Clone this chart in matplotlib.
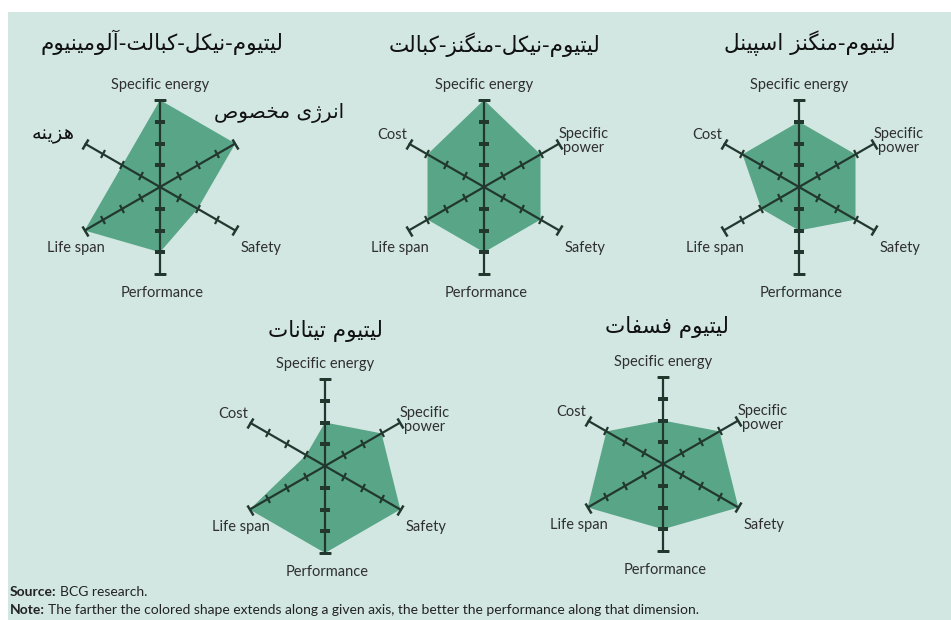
import numpy as np
import matplotlib
matplotlib.use("Agg")
import matplotlib.pyplot as plt
from matplotlib.markers import MarkerStyle
from matplotlib.transforms import Affine2D
from matplotlib.patches import Rectangle

# ---- data -------------------------------------------------------------
categories = ["Specific energy", "Specific power", "Safety",
              "Performance", "Life span", "Cost"]
nca = [4, 4, 2, 3, 4, 2]   # lithium nickel cobalt aluminium
nmc = [4, 3, 3, 3, 3, 3]   # lithium nickel manganese cobalt
lmo = [3, 3, 3, 2, 2, 3]   # lithium manganese spinel
lto = [2, 3, 4, 4, 4, 1]   # lithium titanate
lfp = [2, 3, 4, 3, 4, 3]   # lithium phosphate
titles = ["لیتیوم-نیکل-کبالت-آلومینیوم",
          "لیتیوم-نیکل-منگنز-کبالت",
          "لیتیوم-منگنز اسپینل",
          "لیتیوم تیتانات",
          "لیتیوم فسفات"]
label_energy_fa = "انرژی مخصوص"
label_cost_fa = "هزینه"
source_text = "BCG research."
note_text = ("The farther the colored shape extends along a given axis, "
             "the better the performance along that dimension.")
scale_max = 4

# ---- minimal Persian shaping (presentation forms + right-to-left) -----
FORMS = {
    '\u0622': ('\uFE81', '\uFE82', None, None),
    '\u0627': ('\uFE8D', '\uFE8E', None, None),
    '\u0628': ('\uFE8F', '\uFE90', '\uFE91', '\uFE92'),
    '\u067E': ('\uFB56', '\uFB57', '\uFB58', '\uFB59'),
    '\u062A': ('\uFE95', '\uFE96', '\uFE97', '\uFE98'),
    '\u062E': ('\uFEA5', '\uFEA6', '\uFEA7', '\uFEA8'),
    '\u0631': ('\uFEAD', '\uFEAE', None, None),
    '\u0632': ('\uFEAF', '\uFEB0', None, None),
    '\u0698': ('\uFB8A', '\uFB8B', None, None),
    '\u0633': ('\uFEB1', '\uFEB2', '\uFEB3', '\uFEB4'),
    '\u0635': ('\uFEB9', '\uFEBA', '\uFEBB', '\uFEBC'),
    '\u0641': ('\uFED1', '\uFED2', '\uFED3', '\uFED4'),
    '\u06A9': ('\uFB8E', '\uFB8F', '\uFB90', '\uFB91'),
    '\u0643': ('\uFB8E', '\uFB8F', '\uFB90', '\uFB91'),
    '\u06AF': ('\uFB92', '\uFB93', '\uFB94', '\uFB95'),
    '\u0644': ('\uFEDD', '\uFEDE', '\uFEDF', '\uFEE0'),
    '\u0645': ('\uFEE1', '\uFEE2', '\uFEE3', '\uFEE4'),
    '\u0646': ('\uFEE5', '\uFEE6', '\uFEE7', '\uFEE8'),
    '\u0647': ('\uFEE9', '\uFEEA', '\uFEEB', '\uFEEC'),
    '\u0648': ('\uFEED', '\uFEEE', None, None),
    '\u06CC': ('\uFBFC', '\uFBFD', '\uFBFE', '\uFBFF'),
    '\u064A': ('\uFBFC', '\uFBFD', '\uFBFE', '\uFBFF'),
}


def joins_forward(ch):
    return ch in FORMS and FORMS[ch][2] is not None


def shape_fa(text):
    out = []
    for i, ch in enumerate(text):
        if ch not in FORMS:
            out.append(ch)
            continue
        prev = text[i - 1] if i > 0 else ''
        nxt = text[i + 1] if i + 1 < len(text) else ''
        left = joins_forward(prev)
        right = joins_forward(ch) and nxt in FORMS
        iso, fin, ini, med = FORMS[ch]
        if left and right:
            out.append(med)
        elif left:
            out.append(fin)
        elif right:
            out.append(ini)
        else:
            out.append(iso)
    return ''.join(reversed(out))


# ---- styling ----------------------------------------------------------
W, H = 951, 620
BG = '#d2e7e1'
FILL = '#58a588'
SPOKE = '#22382f'
TXT = '#2f2f2f'
FA_TXT = '#111111'
EN_FONT = ['Lato', 'DejaVu Sans']
FA_FONT = ['DejaVu Sans']
PX_PER_UNIT = 21.75
RLIM = 6.0

fig = plt.figure(figsize=(W / 100, H / 100), dpi=100)
fig.patch.set_facecolor('white')
fig.add_artist(Rectangle((8 / W, 0), 1 - 8 / W, 1 - 12 / H,
                         transform=fig.transFigure, facecolor=BG,
                         edgecolor='none', zorder=0))

angles = np.arange(len(categories)) * 2 * np.pi / len(categories)

# label offsets (pixels, screen, y up) from each chart centre
label_offsets = [(0, 102), (100, 46), (101, -61), (2, -106), (-84, -61), (-92, 52)]


def radar(cx, cy, values, title, title_dxdy, labels, offsets):
    size = 2 * RLIM * PX_PER_UNIT
    ax = fig.add_axes([(cx - size / 2) / W, (H - cy - size / 2) / H,
                       size / W, size / H], projection='polar')
    ax.set_theta_zero_location('N')
    ax.set_theta_direction(-1)
    ax.set_ylim(0, RLIM)
    ax.axis('off')
    ax.patch.set_visible(False)

    th = np.append(angles, angles[0])
    vals = np.append(values, values[0])
    ax.fill(th, vals, color=FILL, linewidth=0, zorder=1)

    for a in angles:
        ax.plot([a, a], [0, scale_max], color=SPOKE, lw=1.6,
                solid_capstyle='butt', zorder=3)
        rot = 90 - np.degrees(a)
        tick = MarkerStyle('|', transform=Affine2D().rotate_deg(rot))
        ax.plot([a] * (scale_max - 1), np.arange(1, scale_max),
                linestyle='none', marker=tick, markersize=6.5,
                markeredgewidth=1.6, color=SPOKE, zorder=3)
        ax.plot([a], [scale_max], linestyle='none', marker=tick,
                markersize=8, markeredgewidth=1.8, color=SPOKE, zorder=3)

    for (text, fam, fs), (dx, dy) in zip(labels, offsets):
        ax.annotate(text, xy=(0, 0), xytext=(dx * 0.72, dy * 0.72),
                    textcoords='offset points', ha='center', va='center',
                    fontsize=fs, family=fam,
                    color=TXT if fam is EN_FONT else FA_TXT,
                    linespacing=0.95, annotation_clip=False)

    fig.text((cx + title_dxdy[0]) / W, 1 - (cy + title_dxdy[1]) / H,
             shape_fa(title), ha='center', va='center', fontsize=15.5,
             family=FA_FONT, color=FA_TXT)
    return ax


def en_labels():
    out = []
    for c in categories:
        t = 'Specific\npower' if c == 'Specific power' else c
        out.append((t, EN_FONT, 10.5))
    return out


labs1 = en_labels()
labs1[1] = (shape_fa(label_energy_fa), FA_FONT, 14.5)
labs1[5] = (shape_fa(label_cost_fa), FA_FONT, 14)
offs1 = list(label_offsets)
offs1[1] = (119, 74)
offs1[5] = (-107, 52)

radar(160, 187, nca, titles[0], (2, -145), labs1, offs1)
radar(484, 187, nmc, titles[1], (11, -142), en_labels(), label_offsets)
radar(799, 187, lmo, titles[2], (11, -144), en_labels(), label_offsets)
radar(325, 466, lto, titles[3], (0, -135), en_labels(), label_offsets)
radar(663, 464, lfp, titles[4], (4, -137), en_labels(), label_offsets)

# ---- footnotes ----------------------------------------------------------
FOOT_FS = 10
heads = []
for head, y in [('Source:', 592), ('Note:', 610)]:
    heads.append(fig.text(10 / W, 1 - y / H, head, fontsize=FOOT_FS,
                          weight='bold', family=EN_FONT, color='#222222',
                          va='center'))
fig.canvas.draw()
for head, rest, y in zip(heads, [source_text, note_text], [592, 610]):
    bb = head.get_window_extent()
    fig.text((bb.x1 + 3) / W, 1 - y / H, rest, fontsize=FOOT_FS,
             family=EN_FONT, color='#222222', va='center')

fig.savefig('out.png', dpi=100, facecolor=fig.get_facecolor())
